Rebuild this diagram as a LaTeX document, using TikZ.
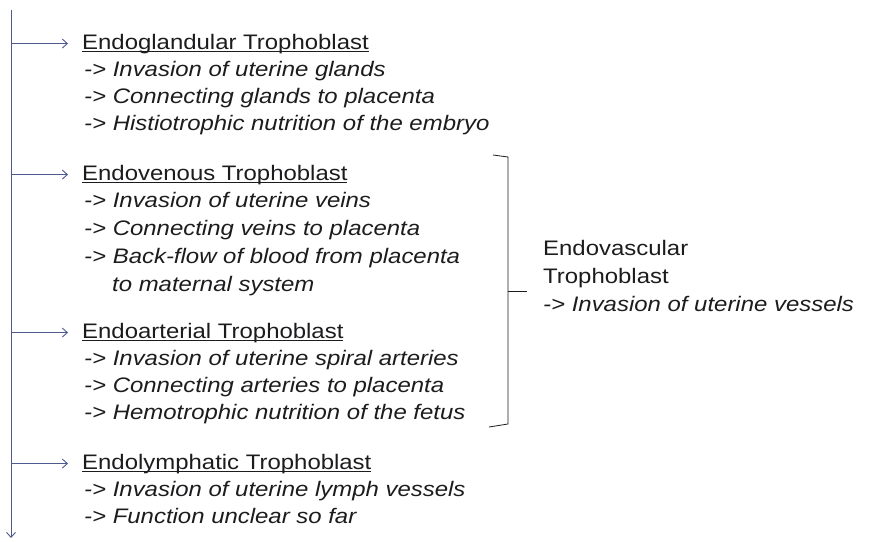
\documentclass[tikz,border=0pt]{standalone}
\usepackage{fontspec}
\setmainfont{Liberation Sans}[FakeStretch=1.14]
\usetikzlibrary{arrows.meta,positioning}
\definecolor{spineblue}{RGB}{76,90,142}
\definecolor{inkgray}{RGB}{28,28,30}
\newcommand{\hdul}[1]{\setbox0\hbox{#1}\rlap{\rule[-3.2pt]{\wd0}{0.9pt}}\box0}

\begin{document}
\begin{tikzpicture}[x=1pt,y=-1pt,>={Straight Barb[length=5pt,width=9pt]}]
  \tikzstyle{head}=[anchor=base west,inner sep=0pt,text=inkgray,font=\fontsize{21}{25}\selectfont]
  \tikzstyle{body}=[inner sep=0pt,align=left,text=inkgray,font=\itshape\fontsize{21}{27}\selectfont]
  \tikzstyle{link}=[spineblue,line width=0.9pt,->]
  \useasboundingbox (0,0) rectangle (869,541);
  \coordinate (spinetop) at (11,10);
  \coordinate (spinebot) at (11,538);
  \node[head] (gland) at (82,49) {\hdul{Endoglandular Trophoblast}};
  \node[body,below right=8pt and 2pt of gland.south west] (glandtxt) {-> Invasion of uterine glands\\-> Connecting glands to placenta\\-> Histiotrophic nutrition of the embryo};
  \node[head] (vein) at (82,180) {\hdul{Endovenous Trophoblast}};
  \node[body,below right=8pt and 2pt of vein.south west,font=\itshape\fontsize{21}{28}\selectfont] (veintxt) {-> Invasion of uterine veins\\-> Connecting veins to placenta\\-> Back-flow of blood from placenta\\\hspace*{28pt}to maternal system};
  \node[head] (art) at (82,338) {\hdul{Endoarterial Trophoblast}};
  \node[body,below right=8pt and 2pt of art.south west] (arttxt) {-> Invasion of uterine spiral arteries\\-> Connecting arteries to placenta\\-> Hemotrophic nutrition of the fetus};
  \node[head] (lymph) at (82,469) {\hdul{Endolymphatic Trophoblast}};
  \node[body,below right=8pt and 2pt of lymph.south west] (lymphtxt) {-> Invasion of uterine lymph vessels\\-> Function unclear so far};
  \node[anchor=north west,inner sep=0pt,align=left,text=inkgray,font=\fontsize{21}{28}\selectfont] (vasc) at (543,240) {Endovascular\\Trophoblast\\\textit{-> Invasion of uterine vessels}};
  \draw[link] (spinetop) -- (spinebot);
  \foreach \n in {gland,vein,art,lymph}
    \draw[link,shorten >=14pt] (spinetop |- \n.west) -- (\n.west);
  \draw[inkgray,line width=0.8pt] (493,155) -- (508,157) -- (508,424) -- (489,427);
  \draw[inkgray,line width=0.8pt] (508,291) -- (527,291);
\end{tikzpicture}
\end{document}
